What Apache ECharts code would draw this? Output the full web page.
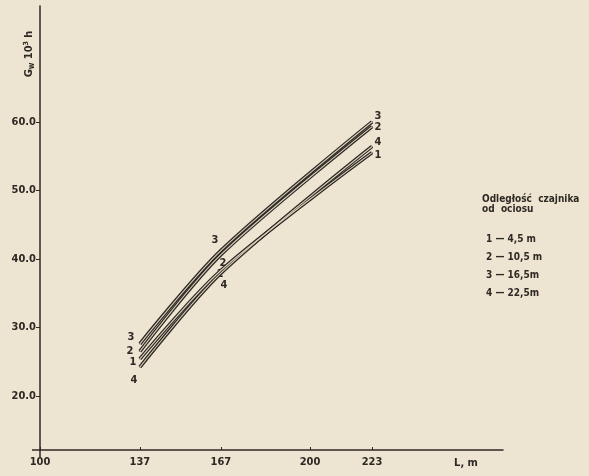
<!DOCTYPE html>
<html>
<head>
<meta charset="utf-8">
<script src="https://cdn.jsdelivr.net/npm/echarts@6/dist/echarts.min.js"></script>
<style>
  html, body { margin: 0; padding: 0; background: #ede5d1; }
  #chart { width: 589px; height: 476px; }
</style>
</head>
<body>
<div id="chart"></div>
<script>
const lengths = [137, 167, 223];
const curveNames = ['1', '2', '3', '4'];
const curve1 = [25.4, 38.3, 55.5];
const curve2 = [26.5, 40.6, 59.3];
const curve3 = [27.6, 41.2, 60.0];
const curve4 = [24.2, 37.9, 56.4];
const xTicks = [100, 137, 167, 200, 223];
const yTicks = [20, 30, 40, 50, 60];
const legendTitle = ['Odległość  czajnika', 'od  ociosu'];
const legendLines = ['1 — 4,5 m', '2 — 10,5 m', '3 — 16,5m', '4 — 22,5m'];

const ink = '#2e2924';
const paper = '#ede5d1';
const font = '"Liberation Sans Narrow", "DejaVu Sans Condensed", sans-serif';

// where the curve numbers sit: start, middle, end
const labelOffsets = {
  '1': [[-7, 3], [-1, 4], [6, 3]],
  '2': [[-10, 0], [2, 8], [6, 1]],
  '3': [[-9, -7], [-6, -10], [6, -6]],
  '4': [[-6, 13], [3, 12], [6, -4]]
};

const curves = { '1': curve1, '2': curve2, '3': curve3, '4': curve4 };

let chart = echarts.init(document.getElementById('chart'));

let series = [];
curveNames.forEach(name => {
  let vals = curves[name];
  series.push({
    name: name,
    type: 'line',
    smooth: 0.3,
    symbol: 'circle',
    symbolSize: 1,
    itemStyle: { color: ink },
    lineStyle: { color: ink, width: 3.6 },
    z: 2,
    data: lengths.map((x, i) => ({
      value: [x, vals[i]],
      label: {
        show: true,
        position: 'inside',
        offset: labelOffsets[name][i],
        formatter: name,
        color: ink,
        fontFamily: font,
        fontWeight: 'bold',
        fontSize: 11
      }
    }))
  });
  // light core -> the double-stroke look of the print
  series.push({
    type: 'line',
    smooth: 0.3,
    symbol: 'none',
    silent: true,
    lineStyle: { color: '#d9d0bb', width: 1.1 },
    z: 3,
    data: lengths.map((x, i) => [x, vals[i]])
  });
});

let option = {
  backgroundColor: paper,
  animation: false,
  grid: { left: 40, right: 86, top: 6, bottom: 26 },
  xAxis: {
    type: 'value',
    min: 100,
    max: 271.5,
    axisLine: { lineStyle: { color: ink, width: 1.5 } },
    axisTick: { show: true, inside: true, length: 3, customValues: xTicks, lineStyle: { color: ink } },
    axisLabel: {
      customValues: xTicks,
      color: ink,
      fontFamily: font,
      fontWeight: 'bold',
      fontSize: 11,
      margin: 7
    },
    splitLine: { show: false }
  },
  yAxis: {
    type: 'value',
    min: 12.1,
    max: 76.9,
    axisLine: { show: true, lineStyle: { color: ink, width: 1.5 } },
    axisTick: { show: true, length: 4, customValues: yTicks, lineStyle: { color: ink } },
    axisLabel: {
      customValues: yTicks,
      formatter: v => v.toFixed(1),
      color: ink,
      fontFamily: font,
      fontWeight: 'bold',
      fontSize: 11,
      margin: 4
    },
    splitLine: { show: false }
  },
  graphic: [
    // axis stubs past the origin
    { type: 'line', shape: { x1: 32, y1: 450, x2: 40, y2: 450 }, style: { stroke: ink, lineWidth: 1.5 } },
    { type: 'line', shape: { x1: 40, y1: 450, x2: 40, y2: 457 }, style: { stroke: ink, lineWidth: 1.5 } },
    {
      type: 'text',
      x: 29, y: 54,
      rotation: Math.PI / 2,
      style: {
        text: '{a|G}{s|w} {a|10}{p|3} {a|h}',
        align: 'center',
        verticalAlign: 'middle',
        fill: ink,
        rich: {
          a: { fontFamily: font, fontWeight: 'bold', fontSize: 11, fill: ink },
          s: { fontFamily: font, fontWeight: 'bold', fontSize: 8, fill: ink, padding: [6, 0, 0, 0] },
          p: { fontFamily: font, fontWeight: 'bold', fontSize: 7, fill: ink, padding: [0, 0, 6, 0] }
        }
      }
    },
    {
      type: 'text',
      x: 466, y: 463,
      style: { text: 'L, m', align: 'center', verticalAlign: 'middle', fill: ink, fontFamily: font, fontWeight: 'bold', fontSize: 11 }
    },
    {
      type: 'text',
      x: 482, y: 194,
      style: { text: legendTitle.join('\n'), lineHeight: 10, fill: ink, fontFamily: font, fontWeight: 'bold', fontSize: 10 }
    }
  ].concat(legendLines.map((t, i) => ({
    type: 'text',
    x: 486, y: 234 + i * 18,
    style: { text: t, fill: ink, fontFamily: font, fontWeight: 'bold', fontSize: 10 }
  }))),
  series: series
};

chart.setOption(option);
</script>
</body>
</html>
